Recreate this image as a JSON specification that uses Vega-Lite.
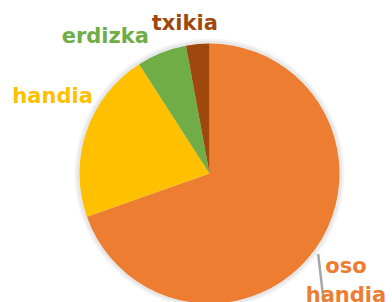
{
  "$schema": "https://vega.github.io/schema/vega-lite/v6.json",
  "width": 365,
  "height": 257,
  "padding": {"left": 27, "top": 45, "right": 0, "bottom": 0},
  "autosize": {"type": "none"},
  "background": "white",
  "view": {"stroke": null},
  "data": {
    "values": [
      {"cat": "oso handia", "value": 69.6, "ord": 1},
      {"cat": "handia", "value": 21.3, "ord": 2},
      {"cat": "erdizka", "value": 6.2, "ord": 3},
      {"cat": "txikia", "value": 2.9, "ord": 4}
    ]
  },
  "encoding": {
    "theta": {"field": "value", "type": "quantitative", "stack": true},
    "order": {"field": "ord", "type": "quantitative"}
  },
  "layer": [
    {
      "mark": {"type": "arc", "radius": 135, "color": "#000000", "opacity": 0.04},
      "encoding": {}
    },
    {
      "mark": {"type": "arc", "radius": 133, "color": "#000000", "opacity": 0.05},
      "encoding": {}
    },
    {
      "mark": {"type": "arc", "radius": 130},
      "encoding": {
        "color": {
          "field": "cat",
          "type": "nominal",
          "scale": {
            "domain": ["oso handia", "handia", "erdizka", "txikia"],
            "range": ["#ED7D31", "#FFC000", "#70AD47", "#9E480E"]
          },
          "legend": null
        }
      }
    },
    {
      "mark": {"type": "text", "radius": 150, "angle": -6.6, "dx": -13, "dy": 16, "baseline": "middle", "align": "center", "font": "DejaVu Sans", "fontWeight": 200, "fontSize": 52, "color": "#A6A6A6"},
      "encoding": {
        "text": {"condition": {"test": "datum.cat === 'oso handia'", "value": "|"}, "value": ""}
      }
    },
    {
      "mark": {"type": "text", "radius": 150, "dx": 14, "dy": 13, "baseline": "alphabetic", "align": "center", "font": "DejaVu Sans", "fontWeight": "bold", "fontSize": 21, "lineBreak": " ", "lineHeight": 29, "color": "#ED7D31"},
      "encoding": {
        "text": {"condition": {"test": "datum.cat === 'oso handia'", "field": "cat"}, "value": ""}
      }
    },
    {
      "mark": {"type": "text", "radius": 150, "dx": -15, "dy": -22, "baseline": "alphabetic", "align": "center", "font": "DejaVu Sans", "fontWeight": "bold", "fontSize": 21, "color": "#FFC000"},
      "encoding": {
        "text": {"condition": {"test": "datum.cat === 'handia'", "field": "cat"}, "value": ""}
      }
    },
    {
      "mark": {"type": "text", "radius": 150, "dx": -49, "dy": 9, "baseline": "alphabetic", "align": "center", "font": "DejaVu Sans", "fontWeight": "bold", "fontSize": 21, "color": "#70AD47"},
      "encoding": {
        "text": {"condition": {"test": "datum.cat === 'erdizka'", "field": "cat"}, "value": ""}
      }
    },
    {
      "mark": {"type": "text", "radius": 150, "dx": -11, "dy": 6, "baseline": "alphabetic", "align": "center", "font": "DejaVu Sans", "fontWeight": "bold", "fontSize": 21, "color": "#9E480E"},
      "encoding": {
        "text": {"condition": {"test": "datum.cat === 'txikia'", "field": "cat"}, "value": ""}
      }
    }
  ]
}
